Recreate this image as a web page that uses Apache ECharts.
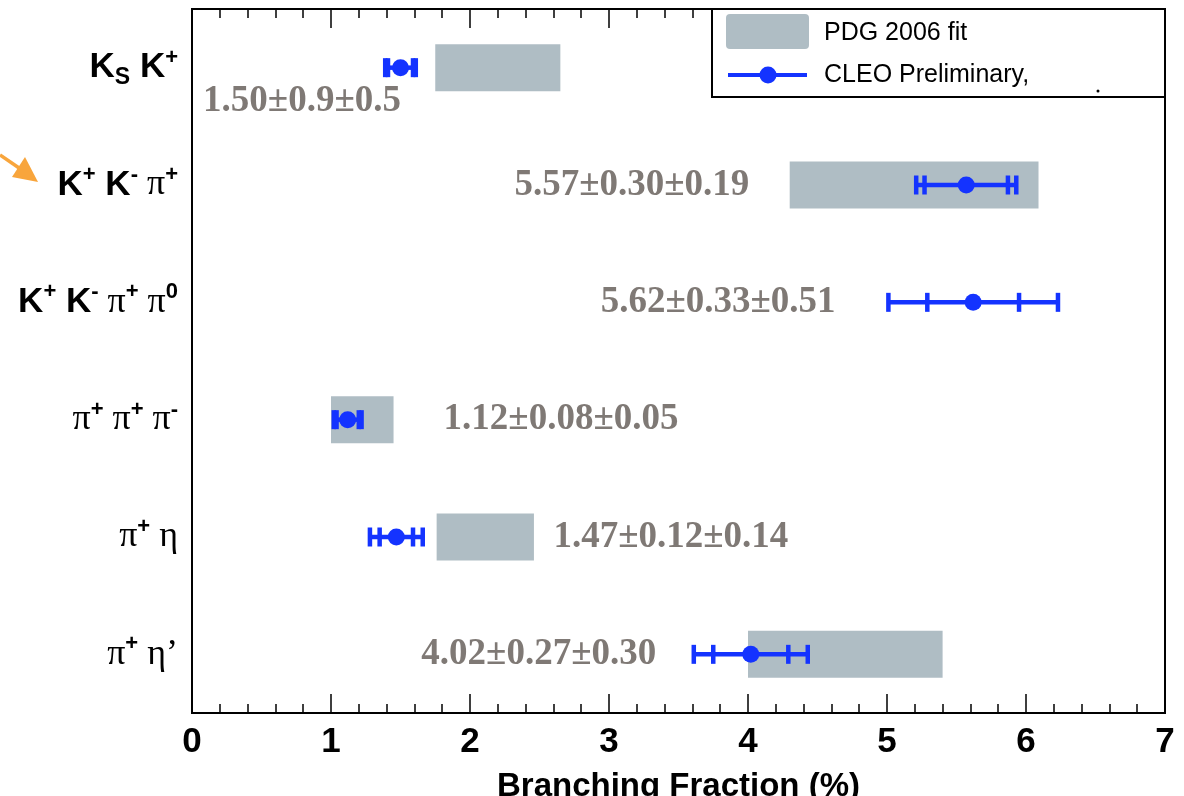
<!DOCTYPE html>
<html><head><meta charset="utf-8">
<script src="https://cdn.jsdelivr.net/npm/echarts@6/dist/echarts.min.js"></script>
<style>html,body{margin:0;padding:0;background:#fff}#c{width:1184px;height:796px}</style>
</head><body><div id="c"></div>
<script>
// ---- data ----
const categories = ['KS K+', 'K+ K- π+', 'K+ K- π+ π0', 'π+ π+ π-', 'π+ η', 'π+ η’'];
const categoryLabels = [
  '{b|K}{sub|S}{b| K}{sup|+}',
  '{b|K}{sup|+}{b| K}{sup|-}{pi| π}{sup|+}',
  '{b|K}{sup|+}{b| K}{sup|-}{pi| π}{sup|+}{pi| π}{sup|0}',
  '{pi|π}{sup|+}{pi| π}{sup|+}{pi| π}{sup|-}',
  '{pi|π}{sup|+}{pi| η}',
  '{pi|π}{sup|+}{pi| η’}'
];
const pdgLow  = [1.75, 4.30, null, 1.00, 1.76, 4.00];
const pdgHigh = [2.65, 6.09, null, 1.45, 2.46, 5.40];
const cleoValue    = [1.50, 5.57, 5.62, 1.12, 1.47, 4.02];
const cleoStatErr  = [0.09, 0.30, 0.33, 0.08, 0.12, 0.27];
const cleoTotalErr = [0.11, 0.36, 0.61, 0.10, 0.19, 0.41];
const resultText = ['1.50±0.9±0.5', '5.57±0.30±0.19', '5.62±0.33±0.51', '1.12±0.08±0.05', '1.47±0.12±0.14', '4.02±0.27±0.30'];
const resultTextX = [0.08, 2.32, 2.94, 1.81, 2.60, 1.65];
const xMin = 0, xMax = 7, xInterval = 1;
const legendNames = ['PDG 2006 fit', 'CLEO Preliminary,'];

// ---- styles ----
const BLUE = '#1433ff';
const GRAY = '#afbdc4';
const TEXTC = '#5f5852';

const chart = echarts.init(document.getElementById('c'));

const pdgData = [];
categories.forEach((c, i) => { if (pdgLow[i] != null) pdgData.push([pdgLow[i], pdgHigh[i], i]); });
const cleoData = cleoValue.map((v, i) => [v, i, cleoStatErr[i], cleoTotalErr[i]]);
const textData = resultTextX.map((x, i) => {
  const d = { value: [x, i], name: resultText[i] };
  if (i === 0) d.label = { offset: [0, 34] };
  return d;
});

const xAxisCommon = {
  type: 'value', min: xMin, max: xMax, interval: xInterval,
  axisLine: { show: true, onZero: false, lineStyle: { color: '#000', width: 2 } },
  axisTick: { show: true, inside: true, length: 19, lineStyle: { color: '#000', width: 1.5 } },
  minorTick: { show: true, splitNumber: 5, length: 9, lineStyle: { color: '#000', width: 1.5 } },
  splitLine: { show: false }, minorSplitLine: { show: false }
};

chart.setOption({
  animation: false,
  backgroundColor: '#fff',
  grid: { left: 192, right: 19, top: 9, bottom: 83, show: true, borderColor: '#000', borderWidth: 2, containLabel: false, outerBoundsMode: 'none' },
  xAxis: [
    Object.assign({}, xAxisCommon, {
      position: 'bottom',
      axisLabel: { margin: 12, fontFamily: 'Liberation Sans', fontWeight: 'bold', fontSize: 35, color: '#000' },
      name: 'Branching Fraction (%)', nameLocation: 'middle', nameGap: 57,
      nameTextStyle: { fontFamily: 'Liberation Sans', fontWeight: 'bold', fontSize: 33, color: '#000' }
    }),
    Object.assign({}, xAxisCommon, { position: 'top', axisLabel: { show: false } })
  ],
  yAxis: {
    type: 'category', data: categories, inverse: true,
    axisLine: { show: false }, axisTick: { show: false }, splitLine: { show: false },
    axisLabel: {
      margin: 14, align: 'right',
      formatter: (v, i) => categoryLabels[i],
      rich: {
        b: { fontFamily: 'Liberation Sans', fontWeight: 'bold', fontSize: 35, lineHeight: 42, color: '#000' },
        sup: { fontFamily: 'Liberation Sans', fontWeight: 'bold', fontSize: 22, lineHeight: 24, verticalAlign: 'top', color: '#000' },
        sub: { fontFamily: 'Liberation Sans', fontWeight: 'bold', fontSize: 23, lineHeight: 17, verticalAlign: 'bottom', color: '#000' },
        pi: { fontFamily: 'Liberation Serif', fontSize: 36, lineHeight: 42, color: '#000' }
      }
    }
  },
  series: [
    {
      name: legendNames[0], type: 'custom', data: pdgData, encode: { x: [0, 1], y: 2 },
      renderItem: (params, api) => {
        const a = api.coord([api.value(0), api.value(2)]);
        const b = api.coord([api.value(1), api.value(2)]);
        const h = api.size([0, 1])[1] * 0.4;
        return { type: 'rect', shape: { x: a[0], y: a[1] - h / 2, width: b[0] - a[0], height: h }, style: { fill: GRAY } };
      }, z: 2
    },
    {
      name: legendNames[1], type: 'custom', data: cleoData, encode: { x: 0, y: 1 },
      renderItem: (params, api) => {
        const v = api.value(0), cat = api.value(1), st = api.value(2), tot = api.value(3);
        const c = api.coord([v, cat]);
        const xl = api.coord([v - tot, cat])[0], xr = api.coord([v + tot, cat])[0];
        const sl = api.coord([v - st, cat])[0], sr = api.coord([v + st, cat])[0];
        const hh = 9.5;
        const st1 = { stroke: BLUE, lineWidth: 4.5 };
        const cap = x => ({ type: 'line', shape: { x1: x, y1: c[1] - hh, x2: x, y2: c[1] + hh }, style: st1 });
        return {
          type: 'group', children: [
            { type: 'line', shape: { x1: xl, y1: c[1], x2: xr, y2: c[1] }, style: st1 },
            cap(xl), cap(xr), cap(sl), cap(sr),
            { type: 'circle', shape: { cx: c[0], cy: c[1], r: 8.5 }, style: { fill: BLUE } }
          ]
        };
      }, z: 3
    },
    {
      type: 'scatter', data: textData, symbolSize: 0, silent: true, z: 4,
      label: {
        show: true, position: 'right', distance: 0, formatter: p => p.name,
        fontFamily: 'Liberation Serif', fontWeight: 'bold', fontSize: 37, color: TEXTC
      }
    }
  ],
  graphic: [
    { type: 'rect', z: 10, shape: { x: 712, y: 9, width: 453, height: 88 }, style: { fill: '#fff', stroke: '#000', lineWidth: 2 } },
    { type: 'rect', z: 11, shape: { x: 726, y: 14, width: 83, height: 35, r: 4 }, style: { fill: GRAY } },
    { type: 'text', z: 11, x: 824, y: 33, style: { text: legendNames[0], font: '25px "Liberation Sans"', fill: '#000', verticalAlign: 'middle' } },
    { type: 'line', z: 11, shape: { x1: 728, y1: 75, x2: 807, y2: 75 }, style: { stroke: BLUE, lineWidth: 4 } },
    { type: 'circle', z: 12, shape: { cx: 768, cy: 75, r: 8.5 }, style: { fill: BLUE } },
    { type: 'text', z: 11, x: 824, y: 75, style: { text: legendNames[1], font: '25px "Liberation Sans"', fill: '#000', verticalAlign: 'middle' } },
    { type: 'circle', z: 11, shape: { cx: 1098, cy: 91, r: 1.5 }, style: { fill: '#000' } },
    { type: 'line', z: 11, shape: { x1: 0, y1: 155, x2: 22, y2: 170 }, style: { stroke: '#f8a53c', lineWidth: 3.5 } },
    { type: 'polygon', z: 11, shape: { points: [[12, 177], [25, 157], [38, 182]] }, style: { fill: '#f8a53c' } }
  ]
});
</script></body></html>
